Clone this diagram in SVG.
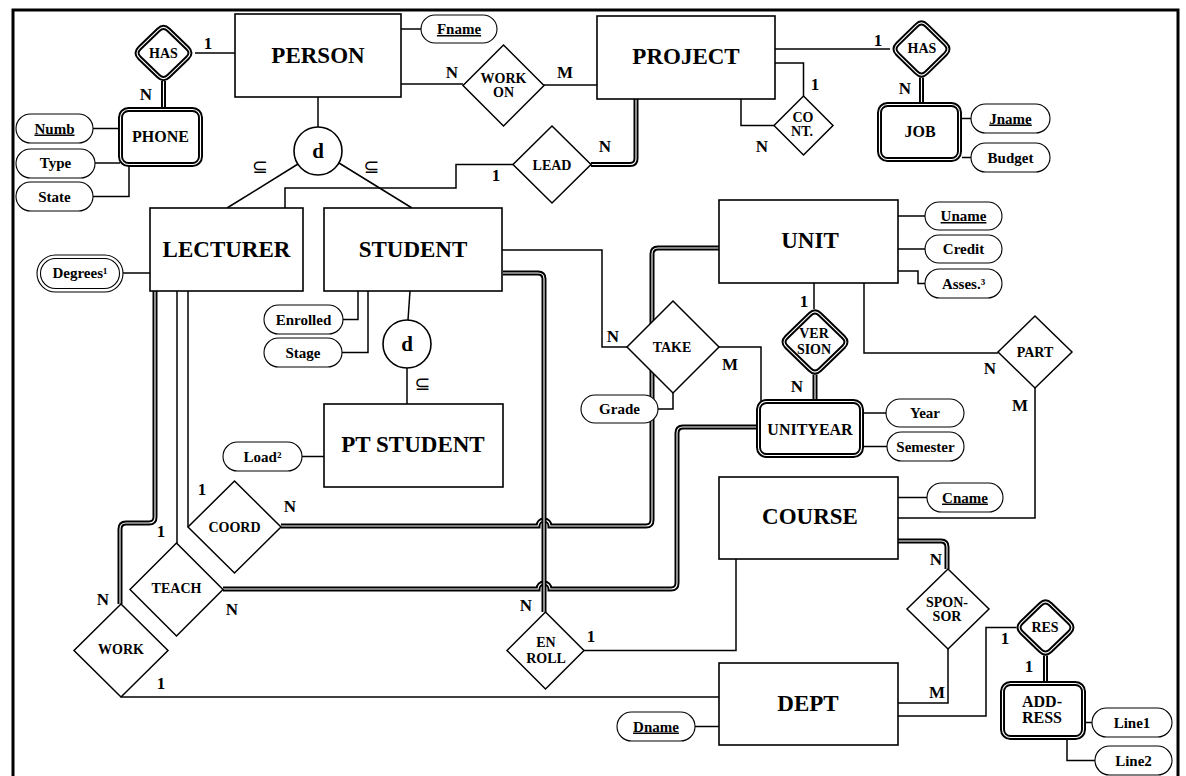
<svg xmlns="http://www.w3.org/2000/svg" xmlns:xlink="http://www.w3.org/1999/xlink" width="1186" height="776" viewBox="0 0 1186 776">
<style>
text{font-family:"Liberation Serif","DejaVu Serif",serif;font-weight:bold;fill:#000;text-anchor:middle}
.ent{fill:#fff;stroke:#000;stroke-width:1.6}
.rel{fill:#fff;stroke:#000;stroke-width:1.5;stroke-linejoin:miter}
.att{fill:#fff;stroke:#000;stroke-width:1.1}
.ln{fill:none;stroke:#000;stroke-width:1.5}
.dblo{fill:none;stroke:#000;stroke-width:5}
.dbli{fill:none;stroke:#fff;stroke-width:1.1}
.wk{fill:#fff;stroke:#000;stroke-width:5}
.wki{fill:none;stroke:#fff;stroke-width:1.1}
.big{font-size:23px}
.mid{font-size:16px}
.rt{font-size:14px}
.at{font-size:15px}
.u{text-decoration:underline}
.card{font-size:17px}
.sub{font-family:"DejaVu Sans",sans-serif;font-weight:normal;font-size:19px}
</style>
<defs>
<path id="d1" d="M163.5,81 V109"/>
<path id="d2" d="M921.5,77.5 V104"/>
<path id="d3" d="M591,164.5 H630 Q636,164.5 636,158.5 V99"/>
<path id="d4" d="M815,374.5 V401"/>
<path id="d5" d="M898,541 H941 Q947,541 947,547 V569"/>
<path id="d6" d="M1045.5,655.5 V683"/>
<path id="d7" d="M281,526 H538 A6,6 0 0 1 550,526 H646 Q652,526 652,520 V254 Q652,248 658,248 H719"/>
<path id="d8" d="M223,589 H538 A6,6 0 0 1 550,589 H671 Q677,589 677,583 V433 Q677,427 683,427 H756"/>
<path id="d9" d="M503,273 H538 Q544,273 544,279 V612"/>
<path id="d10" d="M155,291 V517 Q155,523 149,523 H126 Q120,523 120,529 V604"/>
<path id="hasL" d="M168.54,29.86 L187.46,48.14 Q192.5,53 187.46,57.86 L168.54,76.14 Q163.5,81 158.46,76.14 L139.54,57.86 Q134.5,53 139.54,48.14 L158.46,29.86 Q163.5,25 168.54,29.86 Z"/>
<path id="hasR" d="M926.49,25.41 L945.51,44.09 Q950.5,49 945.51,53.91 L926.49,72.59 Q921.5,77.5 916.51,72.59 L897.49,53.91 Q892.5,49 897.49,44.09 L916.51,25.41 Q921.5,20.5 926.49,25.41 Z"/>
<path id="ver" d="M820.02,314.37 L843.48,337.13 Q848.5,342 843.48,346.87 L820.02,369.63 Q815,374.5 809.98,369.63 L786.52,346.87 Q781.5,342 786.52,337.13 L809.98,314.37 Q815,309.5 820.02,314.37 Z"/>
<path id="res" d="M1050.54,604.36 L1069.46,622.64 Q1074.5,627.5 1069.46,632.36 L1050.54,650.64 Q1045.5,655.5 1040.46,650.64 L1021.54,632.36 Q1016.5,627.5 1021.54,622.64 L1040.46,604.36 Q1045.5,599.5 1050.54,604.36 Z"/>
</defs>
<rect x="13" y="10" width="1165" height="780" fill="#fff" stroke="#000" stroke-width="3"/>
<g id="connectors">
<path class="ln" d="M195,53 H235"/>
<path class="ln" d="M401,84 H463"/>
<path class="ln" d="M544,85 H597"/>
<path class="ln" d="M401,29 H421"/>
<path class="ln" d="M775,49 H890"/>
<path class="ln" d="M775,63 H803.5 V96"/>
<path class="ln" d="M741,99 V125.5 H774"/>
<path class="ln" d="M962,118.5 H971"/>
<path class="ln" d="M962,157.5 H971"/>
<path class="ln" d="M513,164.5 H456 V188 H285 V208"/>
<path class="ln" d="M318,97 V127"/>
<path class="ln" d="M227,208 L298,164"/>
<path class="ln" d="M339,163 L412,208"/>
<path class="ln" d="M93,128.5 H120"/>
<path class="ln" d="M95,163 H120"/>
<path class="ln" d="M93,196.5 H129 V166"/>
<path class="ln" d="M123,273 H150"/>
<path class="ln" d="M343,319.5 H358 V291"/>
<path class="ln" d="M342,352.5 H368 V291"/>
<path class="ln" d="M410,291 L408,320"/>
<path class="ln" d="M407,368 V404"/>
<path class="ln" d="M302,456.5 H324"/>
<path class="ln" d="M502,250 H602 V347 H627"/>
<path class="ln" d="M719,347 H761 V401"/>
<path class="ln" d="M814,283 V309"/>
<path class="ln" d="M898,216 H925"/>
<path class="ln" d="M898,249 H925"/>
<path class="ln" d="M898,271 H918 V283.5 H925"/>
<path class="ln" d="M864,283 V353 H998"/>
<path class="ln" d="M1035,388 V518 H898"/>
<path class="ln" d="M864,413 H886"/>
<path class="ln" d="M864,446.5 H887"/>
<path class="ln" d="M898,497.5 H927"/>
<path class="ln" d="M948,649 V703 H898"/>
<path class="ln" d="M898,716 H986 V627.5 H1016.5"/>
<path class="ln" d="M1086,722.5 H1092"/>
<path class="ln" d="M1067,740 V760.5 H1095"/>
<path class="ln" d="M695,726.5 H719"/>
<path class="ln" d="M584,650.5 H736 V559"/>
<path class="ln" d="M188,291 V527"/>
<path class="ln" d="M177,291 V543"/>
<path class="ln" d="M121,697 H719"/>
<use xlink:href="#d1" class="dblo"/><use xlink:href="#d1" class="dbli"/>
<use xlink:href="#d2" class="dblo"/><use xlink:href="#d2" class="dbli"/>
<use xlink:href="#d3" class="dblo"/><use xlink:href="#d3" class="dbli"/>
<use xlink:href="#d4" class="dblo"/><use xlink:href="#d4" class="dbli"/>
<use xlink:href="#d5" class="dblo"/><use xlink:href="#d5" class="dbli"/>
<use xlink:href="#d6" class="dblo"/><use xlink:href="#d6" class="dbli"/>
<use xlink:href="#d7" class="dblo"/><use xlink:href="#d7" class="dbli"/>
<use xlink:href="#d8" class="dblo"/><use xlink:href="#d8" class="dbli"/>
<use xlink:href="#d9" class="dblo"/><use xlink:href="#d9" class="dbli"/>
<use xlink:href="#d10" class="dblo"/><use xlink:href="#d10" class="dbli"/>
<path class="ln" d="M658,409 H673 V393"/>
</g>
<g id="labels">
<text class="card" x="208" y="49">1</text>
<text class="card" x="146" y="100">N</text>
<text class="card" x="452" y="78">N</text>
<text class="card" x="565" y="78">M</text>
<text class="card" x="605" y="152">N</text>
<text class="card" x="496" y="181">1</text>
<text class="card" x="878" y="46">1</text>
<text class="card" x="905" y="94">N</text>
<text class="card" x="815" y="90">1</text>
<text class="card" x="762" y="152">N</text>
<text class="sub" x="260" y="173">⊆</text>
<text class="sub" x="371.5" y="173">⊆</text>
<text class="sub" x="422.5" y="390">⊆</text>
<text class="card" x="613" y="342">N</text>
<text class="card" x="730" y="370">M</text>
<text class="card" x="804" y="307">1</text>
<text class="card" x="797" y="392">N</text>
<text class="card" x="990" y="374">N</text>
<text class="card" x="1020" y="411">M</text>
<text class="card" x="936" y="565">N</text>
<text class="card" x="937" y="698">M</text>
<text class="card" x="1005" y="644">1</text>
<text class="card" x="1029" y="672">1</text>
<text class="card" x="526" y="611">N</text>
<text class="card" x="591" y="642">1</text>
<text class="card" x="202" y="495">1</text>
<text class="card" x="290" y="512">N</text>
<text class="card" x="161" y="537">1</text>
<text class="card" x="232" y="615">N</text>
<text class="card" x="103" y="605">N</text>
<text class="card" x="161" y="689">1</text>
</g>
<g id="PERSON"><rect class="ent" x="235" y="14" width="166" height="83"/><text class="big" x="318" y="63">PERSON</text></g>
<g id="PROJECT"><rect class="ent" x="597" y="16" width="178" height="83"/><text class="big" x="686" y="64">PROJECT</text></g>
<g id="LECTURER"><rect class="ent" x="150" y="208" width="153" height="83"/><text class="big" x="226.5" y="257">LECTURER</text></g>
<g id="STUDENT"><rect class="ent" x="324" y="208" width="178" height="83"/><text class="big" x="413" y="257">STUDENT</text></g>
<g id="PTSTUDENT"><rect class="ent" x="324" y="404" width="179" height="83"/><text class="big" x="413" y="452">PT STUDENT</text></g>
<g id="UNIT"><rect class="ent" x="719" y="200" width="179" height="83"/><text class="big" x="810" y="248">UNIT</text></g>
<g id="COURSE"><rect class="ent" x="719" y="477" width="179" height="82"/><text class="big" x="810" y="524">COURSE</text></g>
<g id="DEPT"><rect class="ent" x="719" y="663" width="179" height="82"/><text class="big" x="808" y="711">DEPT</text></g>
<g id="PHONE"><rect class="wk" x="120.5" y="109.5" width="80" height="55" rx="8"/><rect class="wki" x="120.5" y="109.5" width="80" height="55" rx="8"/><text class="mid" x="160.5" y="142">PHONE</text></g>
<g id="JOB"><rect class="wk" x="879.5" y="104.5" width="80" height="55" rx="8"/><rect class="wki" x="879.5" y="104.5" width="80" height="55" rx="8"/><text class="mid" x="920" y="137">JOB</text></g>
<g id="UNITYEAR"><rect class="wk" x="758.5" y="401.5" width="103" height="54" rx="8"/><rect class="wki" x="758.5" y="401.5" width="103" height="54" rx="8"/><text class="mid" x="810" y="435">UNITYEAR</text></g>
<g id="ADDRESS"><rect class="wk" x="1002.5" y="683.5" width="81" height="54" rx="8"/><rect class="wki" x="1002.5" y="683.5" width="81" height="54" rx="8"/><text class="mid" x="1042" y="707">ADD-</text><text class="mid" x="1042" y="723">RESS</text></g>
<g id="HAS1"><use xlink:href="#hasL" class="wk"/><use xlink:href="#hasL" class="wki"/><text class="rt" x="163.5" y="58">HAS</text></g>
<g id="HAS2"><use xlink:href="#hasR" class="wk"/><use xlink:href="#hasR" class="wki"/><text class="rt" x="922" y="53">HAS</text></g>
<g id="VERSION"><use xlink:href="#ver" class="wk"/><use xlink:href="#ver" class="wki"/><text class="rt" x="814" y="338">VER</text><text class="rt" x="814" y="354">SION</text></g>
<g id="RES"><use xlink:href="#res" class="wk"/><use xlink:href="#res" class="wki"/><text class="rt" x="1045" y="632">RES</text></g>
<g id="WORKON"><polygon class="rel" points="503.5,45 544,85.5 503.5,126 463,85.5"/><text class="rt" x="503.5" y="83">WORK</text><text class="rt" x="503.5" y="97">ON</text></g>
<g id="LEAD"><polygon class="rel" points="552,126 591,164.5 552,203 513,164.5"/><text class="rt" x="552" y="170">LEAD</text></g>
<g id="CONT"><polygon class="rel" points="803.5,96 833,125.5 803.5,155 774,125.5"/><text class="rt" x="803" y="122">CO</text><text class="rt" x="802" y="136">NT.</text></g>
<g id="TAKE"><polygon class="rel" points="673,301 719,347 673,393 627,347"/><text class="rt" x="672" y="352">TAKE</text></g>
<g id="PART"><polygon class="rel" points="1035,316 1072,352 1035,388 998,352"/><text class="rt" x="1035" y="357">PART</text></g>
<g id="SPONSOR"><polygon class="rel" points="948,569 989,609 948,649 907,609"/><text class="rt" x="947" y="607">SPON-</text><text class="rt" x="947" y="621">SOR</text></g>
<g id="ENROLL"><polygon class="rel" points="545.5,612 584,650.5 545.5,689 507,650.5"/><text class="rt" x="546" y="647">EN</text><text class="rt" x="546" y="663">ROLL</text></g>
<g id="COORD"><polygon class="rel" points="234.5,481 281,527 234.5,573 188,527"/><text class="rt" x="234.5" y="532">COORD</text></g>
<g id="TEACH"><polygon class="rel" points="176.5,543 223,589.5 176.5,636 130,589.5"/><text class="rt" x="176.5" y="593">TEACH</text></g>
<g id="WORK"><polygon class="rel" points="121,604 168,650.5 121,697 74,650.5"/><text class="rt" x="121" y="654">WORK</text></g>
<g id="d_top"><circle cx="318" cy="151" r="24" fill="#fff" stroke="#000" stroke-width="1.6"/><text x="318" y="157.5" font-size="21px">d</text></g>
<g id="d_student"><circle cx="407" cy="344" r="24" fill="#fff" stroke="#000" stroke-width="1.6"/><text x="407" y="350.5" font-size="21px">d</text></g>
<g id="Grade"><rect class="att" x="581" y="395" width="77" height="28" rx="14"/><text class="at" x="619.5" y="414">Grade</text></g>
<g id="Fname"><rect class="att" x="421" y="15" width="76" height="28" rx="14"/><text class="at u" x="459" y="34">Fname</text></g>
<g id="Numb"><rect class="att" x="16" y="114" width="77" height="29" rx="14.5"/><text class="at u" x="54.5" y="133.5">Numb</text></g>
<g id="Type"><rect class="att" x="16" y="149" width="79" height="29" rx="14.5"/><text class="at" x="55.5" y="168">Type</text></g>
<g id="State"><rect class="att" x="16" y="182" width="77" height="29" rx="14.5"/><text class="at" x="54.5" y="201.5">State</text></g>
<g id="Degrees"><rect class="att" x="37" y="255" width="86" height="37" rx="18.5"/><rect class="att" x="40.5" y="258.5" width="79" height="30" rx="15"/><text class="at" x="80" y="278">Degrees¹</text></g>
<g id="Enrolled"><rect class="att" x="264" y="305" width="79" height="29" rx="14.5"/><text class="at" x="303.5" y="324.5">Enrolled</text></g>
<g id="Stage"><rect class="att" x="264" y="338" width="78" height="29" rx="14.5"/><text class="at" x="303" y="357.5">Stage</text></g>
<g id="Load"><rect class="att" x="223" y="442" width="79" height="29" rx="14.5"/><text class="at" x="262.5" y="461.5">Load²</text></g>
<g id="Uname"><rect class="att" x="925" y="202" width="77" height="28" rx="14"/><text class="at u" x="963.5" y="221">Uname</text></g>
<g id="Credit"><rect class="att" x="925" y="235" width="77" height="28" rx="14"/><text class="at" x="963.5" y="254">Credit</text></g>
<g id="Asses"><rect class="att" x="925" y="269" width="77" height="29" rx="14.5"/><text class="at" x="963.5" y="288.5">Asses.³</text></g>
<g id="Jname"><rect class="att" x="971" y="104" width="79" height="29" rx="14.5"/><text class="at u" x="1010.5" y="123.5">Jname</text></g>
<g id="Budget"><rect class="att" x="971" y="143" width="79" height="29" rx="14.5"/><text class="at" x="1010.5" y="162.5">Budget</text></g>
<g id="Year"><rect class="att" x="886" y="399" width="78" height="28" rx="14"/><text class="at" x="925" y="418">Year</text></g>
<g id="Semester"><rect class="att" x="887" y="432" width="77" height="29" rx="14.5"/><text class="at" x="925.5" y="451.5">Semester</text></g>
<g id="Cname"><rect class="att" x="927" y="483" width="76" height="29" rx="14.5"/><text class="at u" x="965" y="502.5">Cname</text></g>
<g id="Dname"><rect class="att" x="617" y="712" width="78" height="29" rx="14.5"/><text class="at u" x="656" y="731.5">Dname</text></g>
<g id="Line1"><rect class="att" x="1092" y="708" width="80" height="29" rx="14.5"/><text class="at" x="1132" y="727.5">Line1</text></g>
<g id="Line2"><rect class="att" x="1095" y="746" width="77" height="29" rx="14.5"/><text class="at" x="1133.5" y="765.5">Line2</text></g>
</svg>
